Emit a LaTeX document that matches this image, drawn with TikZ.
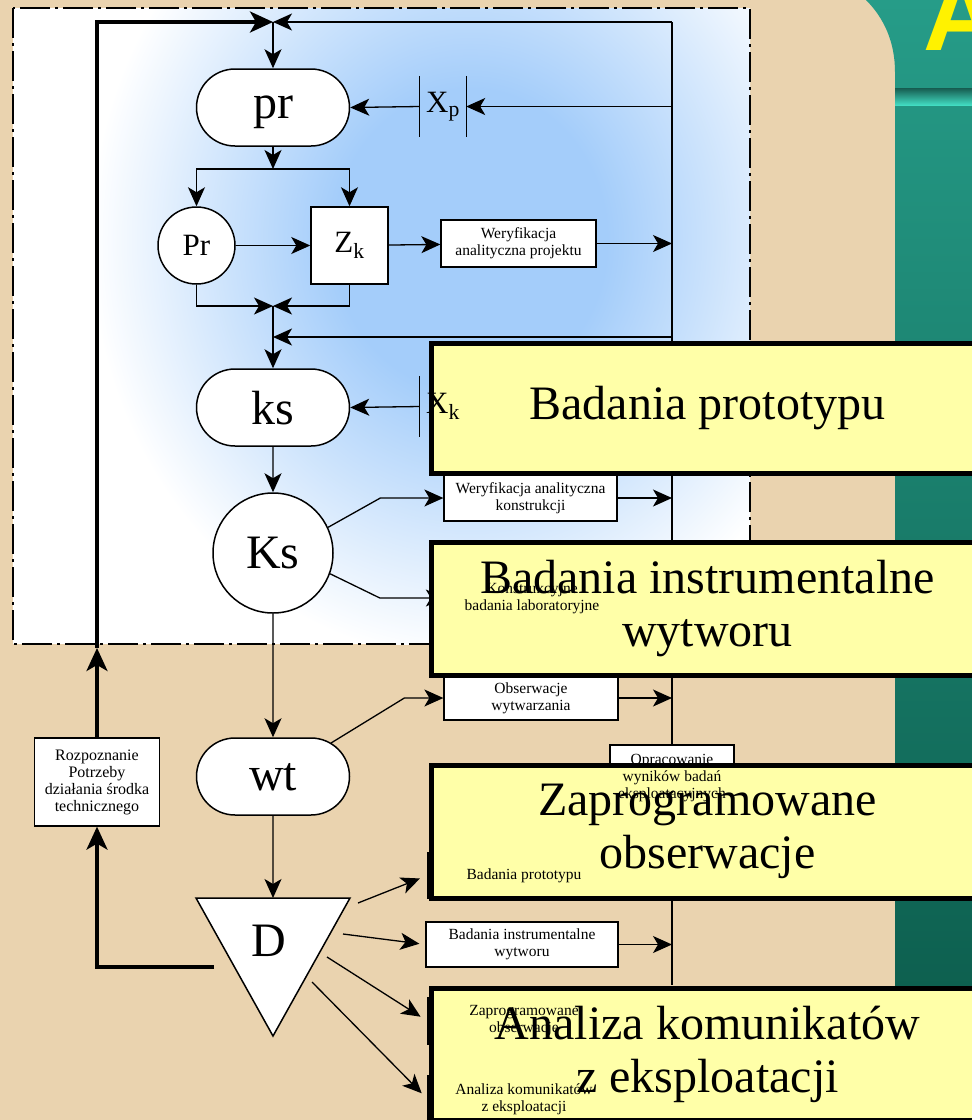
\documentclass[tikz,border=0pt]{standalone}
\usepackage{fontspec}
\setmainfont{Liberation Serif}
\newfontfamily\headfont{Liberation Sans}
\usetikzlibrary{arrows.meta,shapes.misc}

\definecolor{sand}{RGB}{234,211,175}
\definecolor{tealtop}{RGB}{38,156,136}
\definecolor{tealbot}{RGB}{10,88,72}
\definecolor{stripedark}{RGB}{22,92,80}
\definecolor{stripelight}{RGB}{66,220,194}
\definecolor{skyblue}{RGB}{164,205,250}
\definecolor{paleyellow}{RGB}{255,255,168}
\pgfdeclareradialshading{skyglow}{\pgfpoint{0bp}{0bp}}{color(0bp)=(skyblue); color(9bp)=(skyblue); color(25bp)=(white); color(50bp)=(white)}

\newcommand{\bigfont}{\fontsize{48}{53}\selectfont}
\newcommand{\midfont}{\fontsize{31}{34}\selectfont}
\newcommand{\smallfont}{\fontsize{15.5}{17}\selectfont}

\begin{document}
\begin{tikzpicture}[x=1pt, y=-1pt,
    flow/.style={line width=1.3pt, -{Stealth[length=19pt,width=17pt,inset=5pt]}},
    heavy/.style={line width=3.4pt, -{Stealth[length=23pt,width=21pt,inset=6pt]}},
    plain/.style={line width=1.3pt},
    pill/.style={draw, line width=1.5pt, fill=white, rounded rectangle, minimum width=153pt, minimum height=77pt, inner sep=0pt, text depth=0pt, font=\bigfont},
    disc/.style={draw, line width=1.5pt, fill=white, circle, inner sep=0pt},
    sqbox/.style={draw, line width=1.5pt, fill=white, minimum size=77pt, inner sep=0pt, font=\midfont},
    smallbox/.style={draw, line width=1.3pt, fill=white, inner sep=0pt, align=center, font=\smallfont},
    boxtext/.style={align=center, inner sep=0pt, font=\smallfont},
    gatebox/.style={minimum width=46pt, minimum height=61pt, inner sep=0pt, font=\midfont},
    bigbox/.style={draw, line width=5pt, fill=paleyellow, minimum width=553pt, minimum height=133pt, anchor=north west, align=center, font=\bigfont},
    frameline/.style={line width=1.8pt, dash pattern=on 30pt off 5pt on 3pt off 5pt}
  ]
  \useasboundingbox (0,0) rectangle (972,1120);
  \clip (0,0) rectangle (972,1120);

  % slide background
  \fill[sand] (0,0) rectangle (972,1120);
  \shade[top color=tealtop, bottom color=tealbot] (866,0) .. controls (884,18) and (895,42) .. (895,72) -- (895,1120) -- (972,1120) -- (972,0) -- cycle;
  \shade[top color=stripedark, bottom color=stripelight] (895,88) rectangle (972,105);
  \node[anchor=base west, inner sep=0pt, text=yellow, font=\headfont\bfseries\fontsize{105}{105}\selectfont] (title) at (923,50) {A};

  % design area
  \begin{scope}
    \clip (13,8) rectangle (750,644);
    \fill[white] (13,8) rectangle (750,644);
    \shade[shading=skyglow] (470,240) ellipse [x radius=380, y radius=420];
  \end{scope}
  \draw[frameline] (13,8) rectangle (750,644);

  % junctions
  \coordinate (topjoin) at (273,22);
  \coordinate (spinetop) at (672,22);
  \coordinate (spinebot) at (672,985);
  \coordinate (split) at (273,169);
  \coordinate (merge) at (273,306);
  \coordinate (feedk) at (273,337);
  \coordinate (gate) at (97,648);
  \coordinate (dtop) at (273,898);
  \coordinate (dback) at (214,967);
  \coordinate (d1) at (358,903);
  \coordinate (d2) at (343,934);
  \coordinate (d3) at (327,957);
  \coordinate (d4) at (312,982);

  \draw[plain] (spinetop) -- (spinebot);

  % nodes
  \node[pill] (pr) at (273,107.5) {pr};
  \node[gatebox] (xp) at (443,106.5) {X\textsubscript{p}};
  \node[disc, minimum size=77pt, font=\midfont] (Pr) at (196.5,245.5) {Pr};
  \node[sqbox] (Zk) at (349.5,245.5) {Z\textsubscript{k}};
  \node[smallbox, minimum width=155pt, minimum height=47pt] (wap) at (518.5,243.5) {Weryfikacja\\analityczna projektu};
  \node[pill] (ks) at (273,407.5) {ks};
  \node[disc, minimum size=120pt, font=\bigfont] (Ks) at (273,553) {Ks};
  \node[smallbox, minimum width=173pt, minimum height=46pt] (wak) at (530.5,498) {Weryfikacja analityczna\\konstrukcji};
  \node[smallbox, minimum width=173pt, minimum height=46pt] (kbl) at (532,598) {};
  \node[pill] (wt) at (273,776.5) {wt};
  \node[smallbox, minimum width=174pt, minimum height=44pt] (obw) at (531,698) {Obserwacje\\wytwarzania};
  \node[smallbox, minimum width=124pt, minimum height=67pt] (opr) at (672,778.5) {};
  \node[smallbox, minimum width=125pt, minimum height=88pt, font=\fontsize{16}{17}\selectfont] (rz) at (97,782) {Rozpoznanie\\Potrzeby\\działania środka\\technicznego};
  \draw[line width=1.5pt, fill=white] (196,898) -- (350,898) -- (273,1036) -- cycle;
  \node[font=\bigfont] (D) at (269,941) {D};
  \node[smallbox, minimum width=192pt, minimum height=45pt] (bpr) at (524,875.5) {};
  \node[smallbox, minimum width=192pt, minimum height=45pt] (biw) at (522,944.5) {Badania instrumentalne\\wytworu};
  \node[smallbox, minimum width=192pt, minimum height=46pt] (zob) at (524,1021) {};
  \node[smallbox, minimum width=192pt, minimum height=46pt] (akz) at (524,1099) {};

  % connectors
  \draw[heavy] (rz.north) -- (gate);
  \draw[heavy] (gate) |- (topjoin);
  \draw[flow] (spinetop) -- (topjoin);
  \draw[flow] (topjoin) -- (pr.north);
  \draw[flow] (xp.east -| spinetop) -- (xp.east);
  \draw[flow] (xp.west) -- (pr.east);
  \draw[plain] (xp.north west) -- (xp.south west) (xp.north east) -- (xp.south east);
  \draw[flow] (pr.south) -- (split);
  \draw[flow] (split) -| (Pr.north);
  \draw[flow] (split) -| (Zk.north);
  \draw[flow] (Pr) -- (Zk);
  \draw[flow] (Zk) -- (wap);
  \draw[flow] (wap.east) -- (wap.east -| spinetop);
  \draw[flow] (Pr.south) |- (merge);
  \draw[flow] (Zk.south) |- (merge);
  \draw[flow] (merge) -- (ks.north);
  \draw[flow] (feedk -| spinetop) -- (feedk);
  \draw[flow] (ks) -- (Ks);
  \draw[flow] (Ks.25) -- ([xshift=-63pt]wak.west) -- (wak.west);
  \draw[flow] (wak.east) -- (wak.east -| spinetop);
  \draw[flow] (Ks.-20) -- ([xshift=-65pt]kbl.west) -- (kbl.west);
  \draw[flow] (Ks) -- (wt);
  \draw[flow] (wt.30) -- ([xshift=-39pt]obw.west) -- (obw.west);
  \draw[flow] (obw.east) -- (obw.east -| spinetop);
  \draw[flow] (wt) -- (dtop);
  \draw[flow, shorten >=8pt] (d1) -- (bpr.west);
  \draw[flow, shorten >=6pt] (d2) -- (biw.west);
  \draw[flow, shorten >=8pt] (d3) -- (zob.west);
  \draw[flow, shorten >=8pt] (d4) -- (akz.west);
  \draw[flow] (biw.east) -- (biw.east -| spinetop);
  \draw[heavy] (dback) -| (rz.south);

  % slide boxes
  \node[bigbox, minimum height=130pt] (slide1) at (428.5,340.5) {Badania prototypu};
  \node[bigbox] (slide2) at (428.5,539.5) {Badania instrumentalne\\wytworu};
  \node[bigbox] (slide3) at (428.5,762.5) {Zaprogramowane\\obserwacje};
  \node[bigbox, minimum height=132pt] (slide4) at (428.5,985.5) {Analiza komunikatów\\z eksploatacji};

  % texts left on top
  \node[gatebox] (xk) at (443,406.5) {X\textsubscript{k}};
  \draw[plain] (xk.north west) -- (xk.south west);
  \draw[flow] (xk.west) -- (ks.east);
  \node[boxtext] at (kbl) {Konstrukcyjne\\badania laboratoryjne};
  \node[boxtext] at (opr) {Opracowanie\\wyników badań\\eksploatacyjnych};
  \node[boxtext] at (bpr) {Badania prototypu};
  \node[boxtext] at (zob) {Zaprogramowane\\obserwacje};
  \node[boxtext] at (akz) {Analiza komunikatów\\z eksploatacji};
\end{tikzpicture}
\end{document}
